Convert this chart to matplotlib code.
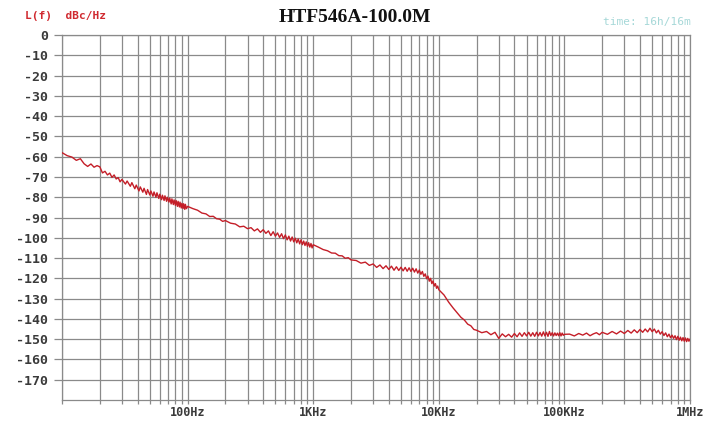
"""
Phase noise plot for HTF546A-100.0M, L(f) in dBc/Hz vs offset frequency.
"""

import matplotlib
matplotlib.use('Agg')
import matplotlib.pyplot as plt
from matplotlib.ticker import LogLocator, NullFormatter, FixedLocator

freq_hz = [
    10, 11, 12, 13, 14, 15, 16, 17, 18, 19, 20, 21, 22, 23, 24, 25, 26, 27, 28, 29,
    30, 32, 33, 35, 36, 38, 39, 41, 42, 44, 45, 47, 48, 50, 51, 53, 54, 56, 57, 59,
    60, 62, 63, 65, 66, 68, 69, 71, 72, 74, 75, 77, 78, 80, 81, 83, 84, 86, 87, 89,
    90, 92, 93, 95, 96, 98, 100,
    110, 120, 130, 140, 150, 160, 170, 180, 190, 200, 220, 240, 260, 280, 300, 320,
    340, 360, 380, 400, 420, 440, 460, 480, 500, 520, 540, 560, 580, 600, 620, 640,
    660, 680, 700, 720, 740, 760, 780, 800, 820, 840, 860, 880, 900, 920, 940, 960,
    980, 1000,
    1100, 1200, 1300, 1400, 1500, 1600, 1700, 1800, 1900, 2000, 2200, 2400, 2600,
    2800, 3000, 3200, 3400, 3600, 3800, 4000, 4200, 4400, 4600, 4800, 5000, 5200,
    5400, 5600, 5800, 6000, 6200, 6400, 6600, 6800, 7000, 7200, 7400, 7600, 7800,
    8000, 8200, 8400, 8600, 8800, 9000, 9200, 9400, 9600, 9800, 10000,
    11000, 12000, 13000, 14000, 15000, 16000, 17000, 18000, 19000, 20000, 22000,
    24000, 26000, 28000, 30000, 32000, 34000, 36000, 38000, 40000, 42000, 44000,
    46000, 48000, 50000, 52000, 54000, 56000, 58000, 60000, 62000, 64000, 66000,
    68000, 70000, 72000, 74000, 76000, 78000, 80000, 82000, 84000, 86000, 88000,
    90000, 92000, 94000, 96000, 98000, 100000,
    110000, 120000, 130000, 140000, 150000, 160000, 170000, 180000, 190000, 200000,
    220000, 240000, 260000, 280000, 300000, 320000, 340000, 360000, 380000, 400000,
    420000, 440000, 460000, 480000, 500000, 520000, 540000, 560000, 580000, 600000,
    620000, 640000, 660000, 680000, 700000, 720000, 740000, 760000, 780000, 800000,
    820000, 840000, 860000, 880000, 900000, 920000, 940000, 960000, 980000, 1000000,
]

noise_dbc = [
    -58.0, -59.5, -60.2, -61.8, -61.0, -63.5, -64.8, -63.6, -65.2, -64.4, -65.0, -68.0,
    -67.2, -69.0, -68.1, -70.2, -69.0, -71.0, -70.3, -72.4,
    -71.2, -73.5, -72.0, -74.6, -72.8, -75.8, -74.0, -76.9, -74.9, -77.5, -75.6, -78.6,
    -76.2, -78.9, -76.9, -79.5, -77.4, -80.0, -77.8, -80.6,
    -78.5, -81.2, -79.0, -81.6, -79.3, -82.0, -80.0, -82.4, -80.4, -83.3, -80.8, -83.6,
    -81.3, -84.0, -81.6, -84.5, -82.0, -84.8, -82.4, -85.3,
    -83.0, -85.5, -83.2, -86.0, -83.5, -85.6, -84.5,
    -85.6, -86.4, -87.8, -88.2, -89.5, -89.4, -90.6, -90.8, -91.9, -91.5, -92.8, -93.2,
    -94.6, -94.3, -95.5, -95.0,
    -96.6, -95.6, -97.3, -96.0, -97.8, -96.6, -98.9, -97.0, -99.2, -97.6, -99.8, -98.0,
    -100.4, -98.6, -101.0, -99.2,
    -101.6, -99.6, -102.0, -100.2, -102.5, -100.6, -103.0, -101.0, -103.4, -101.6,
    -103.8, -102.0, -104.2, -102.4, -104.6, -102.8,
    -105.0, -103.4,
    -104.6, -105.8, -106.4, -107.5, -107.6, -108.8, -108.9, -110.1, -109.8, -110.9,
    -111.2, -112.5, -112.0,
    -113.6, -112.9, -114.6, -113.4, -115.2, -113.8, -115.6, -114.0, -116.0, -114.3,
    -116.1, -114.5, -116.3,
    -114.6, -116.5, -114.8, -116.6, -115.0, -116.9, -115.3, -117.4, -115.9, -118.0,
    -116.6, -119.0, -117.8,
    -120.2, -118.9, -121.4, -120.0, -122.6, -121.3, -123.8, -122.6, -124.9, -123.8,
    -125.6,
    -128.2, -131.8, -134.6, -137.0, -139.2, -140.6, -142.6, -143.4, -145.2, -145.6,
    -146.8,
    -146.2, -147.8, -146.6, -149.6, -147.4, -148.8, -147.6, -149.0, -147.2, -148.8,
    -146.9,
    -148.6, -146.8, -148.4, -146.6, -148.5, -146.8, -148.6, -146.6, -148.4, -146.7,
    -148.5,
    -146.4, -148.4, -146.6, -148.6, -146.2, -148.2, -146.8, -148.4, -146.9, -148.2,
    -147.0,
    -148.3, -146.8, -148.4, -147.0, -148.1, -147.6,
    -147.5, -148.4, -147.2, -148.0, -147.0, -148.3, -147.4, -146.8, -147.8, -146.6,
    -147.6, -146.2, -147.4, -146.0, -147.2, -145.7, -147.0, -145.4, -146.8, -145.2,
    -146.6, -145.0, -146.4, -144.6, -146.3, -145.0, -146.9, -145.6, -147.5, -146.3,
    -148.2, -146.9, -148.8, -147.5, -149.3, -148.0, -149.6, -148.3, -150.2, -148.6,
    -150.5, -149.0, -150.8, -149.2, -151.0, -149.4, -151.2, -149.6, -151.0, -150.0,
]

# Axis ticks and labels
x_ticks = [10, 100, 1000, 10000, 100000, 1000000]
x_tick_labels = ['', '100Hz', '1KHz', '10KHz', '100KHz', '1MHz']
y_ticks = list(range(0, -180, -10))

title_text = 'HTF546A-100.0M'
unit_text = 'L(f)  dBc/Hz'
time_text = 'time: 16h/16m'


def plot_data():
    fig = plt.figure(figsize=(7.03, 4.22), dpi=100)
    ax = fig.add_axes([0.0882, 0.0521, 0.8933, 0.8649])

    grid_color = '#8a8a8a'

    # Trace
    ax.plot(freq_hz, noise_dbc, color='#c41e28', linewidth=1.0, zorder=3)

    # Axes range and scale
    ax.set_xscale('log')
    ax.set_xlim(10, 1000000)
    ax.set_ylim(-180, 0)

    # Ticks
    ax.xaxis.set_major_locator(FixedLocator(x_ticks))
    ax.set_xticklabels(x_tick_labels)
    ax.xaxis.set_minor_locator(LogLocator(base=10, subs=range(2, 10), numticks=20))
    ax.xaxis.set_minor_formatter(NullFormatter())
    ax.set_yticks(y_ticks)
    ax.set_yticklabels([str(v) for v in y_ticks])

    ax.tick_params(axis='x', which='both', direction='out', length=3, width=0.9,
                   color=grid_color, pad=1)
    ax.tick_params(axis='y', direction='out', length=6, width=0.9,
                   color=grid_color, pad=4)

    for lbl in ax.get_yticklabels():
        lbl.set_family('DejaVu Sans Mono')
        lbl.set_fontweight('bold')
        lbl.set_fontsize(9.5)
        lbl.set_color('#3a3a3a')
    for lbl in ax.get_xticklabels():
        lbl.set_family('DejaVu Sans Mono')
        lbl.set_fontweight('bold')
        lbl.set_fontsize(8.5)
        lbl.set_color('#3a3a3a')

    # Grid
    ax.grid(True, which='major', axis='both', color=grid_color, linewidth=0.9)
    ax.grid(True, which='minor', axis='x', color=grid_color, linewidth=0.9)
    for s in ax.spines.values():
        s.set_color(grid_color)
        s.set_linewidth(0.9)

    # Header texts
    fig.text(0.505, 0.958, title_text, ha='center', va='center', fontsize=14,
             fontweight='bold', family='Liberation Serif', color='#111111')
    fig.text(0.036, 0.962, unit_text, ha='left', va='center', fontsize=8,
             fontweight='bold', family='DejaVu Sans Mono', color='#d02a30')
    fig.text(0.982, 0.948, time_text, ha='right', va='center', fontsize=8,
             family='DejaVu Sans Mono', color='#a6d8d8')

    fig.savefig('out.png', dpi=100)


def main():
    plot_data()


if (__name__ == '__main__'):
    main()
